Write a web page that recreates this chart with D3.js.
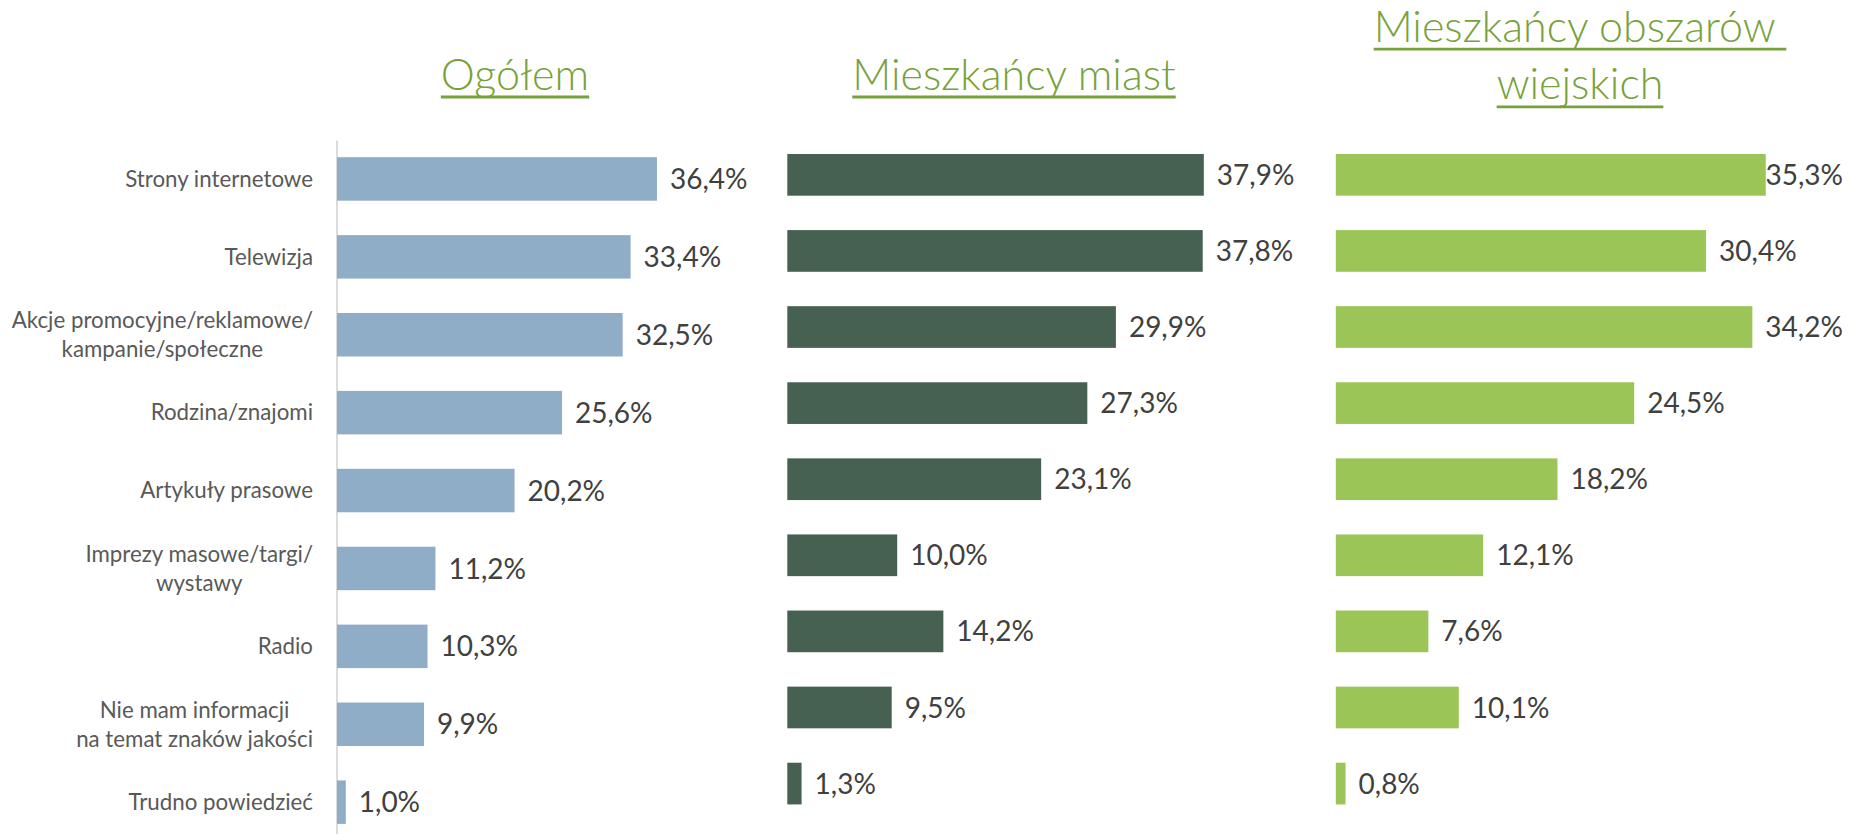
<!DOCTYPE html>
<html>
<head>
<meta charset="utf-8">
<script src="https://cdn.jsdelivr.net/npm/d3@7"></script>
<style>
  html, body { margin: 0; padding: 0; background: #ffffff; }
  svg { display: block; }
  text { font-family: Lato, "Open Sans", sans-serif; }
</style>
</head>
<body>
<svg id="chart" width="1850" height="834"></svg>
<script>
// Sources of information about quality marks, by place of residence (%)
const categories = [
  "Strony internetowe",
  "Telewizja",
  "Akcje promocyjne/reklamowe/\nkampanie/społeczne",
  "Rodzina/znajomi",
  "Artykuły prasowe",
  "Imprezy masowe/targi/\nwystawy",
  "Radio",
  "Nie mam informacji\nna temat znaków jakości",
  "Trudno powiedzieć"
];
const groupTitles = [
  ["Ogółem"],
  ["Mieszkańcy miast"],
  ["Mieszkańcy obszarów ", "wiejskich"]
];
const valuesTotal = [36.4, 33.4, 32.5, 25.6, 20.2, 11.2, 10.3, 9.9, 1.0];
const valuesUrban = [37.9, 37.8, 29.9, 27.3, 23.1, 10.0, 14.2, 9.5, 1.3];
const valuesRural = [35.3, 30.4, 34.2, 24.5, 18.2, 12.1, 7.6, 10.1, 0.8];

const svg = d3.select("#chart");
const fmt = v => d3.format(".1f")(v).replace(".", ",") + "%";

const TITLE_GREEN = "#77a23b";
const VALUE_COLOR = "#404040";
const CAT_COLOR = "#595959";

// layout of the three small-multiple panels
const panels = [
  { values: valuesTotal, color: "#8fadc7", x0: 337,   pxPer: 8.79,
    yStart: 140,   step: 77.9,  inner: 0.442, labelMax: Infinity,
    title: groupTitles[0], titleX: 515,  titleY: [89.5], axis: true },
  { values: valuesUrban, color: "#466152", x0: 787.3, pxPer: 10.99,
    yStart: 136.8, step: 76.09, inner: 0.452, labelMax: 1296,
    title: groupTitles[1], titleX: 1014, titleY: [89.5], axis: false },
  { values: valuesRural, color: "#9bc657", x0: 1335.8, pxPer: 12.18,
    yStart: 136.8, step: 76.09, inner: 0.452, labelMax: 1843,
    title: groupTitles[2], titleX: 1580, titleY: [41.7, 99.3], axis: false }
];

const DOMAIN_MAX = 40;

panels.forEach((p, pi) => {
  const x = d3.scaleLinear()
    .domain([0, DOMAIN_MAX])
    .range([p.x0, p.x0 + DOMAIN_MAX * p.pxPer]);
  const y = d3.scaleBand()
    .domain(categories)
    .range([p.yStart, p.yStart + categories.length * p.step])
    .paddingInner(p.inner)
    .paddingOuter(p.inner / 2);

  const g = svg.append("g").attr("class", "panel panel-" + pi);

  if (p.axis) {
    const ax = g.append("g")
      .attr("transform", `translate(${p.x0 - 0.5},0)`)
      .call(d3.axisLeft(y).tickSize(0).tickFormat(""));
    ax.select(".domain").attr("stroke", "#d4d4d4").attr("stroke-width", 1.6);
  }

  const rows = categories.map((c, i) => ({ cat: c, value: p.values[i] }));

  g.selectAll("rect.bar")
    .data(rows)
    .join("rect")
    .attr("class", "bar")
    .attr("x", x(0))
    .attr("y", d => y(d.cat))
    .attr("width", d => x(d.value) - x(0))
    .attr("height", y.bandwidth())
    .attr("fill", p.color);

  // value labels just past the bar end, kept inside the panel's right limit
  g.selectAll("text.value")
    .data(rows)
    .join("text")
    .attr("class", "value")
    .attr("y", d => y(d.cat) + y.bandwidth() / 2)
    .attr("dy", "0.36em")
    .attr("font-size", 28)
    .attr("fill", VALUE_COLOR)
    .text(d => fmt(d.value))
    .each(function (d) {
      const w = this.getComputedTextLength();
      const xx = Math.min(x(d.value) + 13, p.labelMax - w);
      d3.select(this).attr("x", xx);
    });

  // group heading, underlined
  const lines = p.title;
  lines.forEach((line, li) => {
    const t = g.append("text")
      .attr("x", p.titleX)
      .attr("y", p.titleY[li])
      .attr("text-anchor", "middle")
      .attr("font-size", 43)
      .attr("font-weight", 300)
      .attr("fill", TITLE_GREEN)
      .style("white-space", "pre")
      .text(line);
    const w = t.node().getComputedTextLength();
    g.append("line")
      .attr("x1", p.titleX - w / 2)
      .attr("x2", p.titleX + w / 2)
      .attr("y1", p.titleY[li] + 7.5)
      .attr("y2", p.titleY[li] + 7.5)
      .attr("stroke", TITLE_GREEN)
      .attr("stroke-width", 2.8);
  });

  // category labels on the first panel only
  if (pi === 0) {
    const RIGHT = 313, LH = 29;
    const cg = g.append("g").attr("class", "categories");
    categories.forEach(c => {
      const parts = c.split("\n");
      const cy = y(c) + y.bandwidth() / 2;
      const t = cg.append("text")
        .attr("font-size", 22.3)
        .attr("fill", CAT_COLOR)
        .attr("text-anchor", "middle");
      parts.forEach((s, k) => {
        t.append("tspan")
          .attr("y", cy - (parts.length - 1) * LH / 2 + k * LH)
          .attr("dy", "0.35em")
          .text(s);
      });
      const spans = t.selectAll("tspan").nodes();
      const maxW = d3.max(spans, n => n.getComputedTextLength());
      t.selectAll("tspan").attr("x", RIGHT - maxW / 2);
    });
  }
});
</script>
</body>
</html>
